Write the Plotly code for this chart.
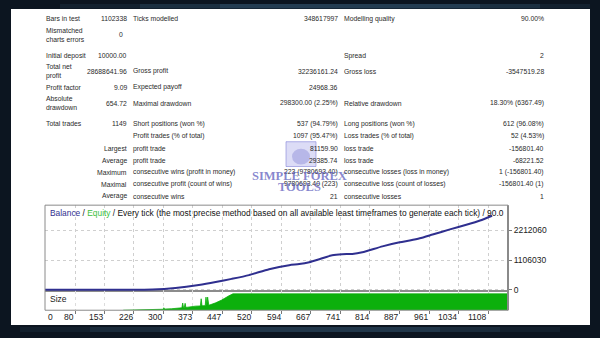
import plotly.graph_objects as go

W, H = 600, 338

# ---------------- data ----------------
row_labels_c1 = ["Bars in test", "Mismatched<br>charts errors", "Initial deposit", "Total net<br>profit",
                 "Profit factor", "Absolute<br>drawdown", "Total trades", "", "", "", "", "", ""]
row_values_c1 = ["1102338", "0", "10000.00", "28688641.96", "9.09", "654.72", "1149", "",
                 "Largest", "Average", "Maximum", "Maximal", "Average"]
row_labels_c2 = ["Ticks modelled", "", "", "Gross profit", "Expected payoff", "Maximal drawdown",
                 "Short positions (won %)", "Profit trades (% of total)", "profit trade", "profit trade",
                 "consecutive wins (profit in money)", "consecutive profit (count of wins)", "consecutive wins"]
row_values_c2 = ["348617997", "", "", "32236161.24", "24968.36", "298300.00 (2.25%)", "537 (94.79%)",
                 "1097 (95.47%)", "81159.90", "29385.74", "223 (9780693.40)", "9780693.40 (223)", "21"]
row_labels_c3 = ["Modelling quality", "", "Spread", "Gross loss", "", "Relative drawdown",
                 "Long positions (won %)", "Loss trades (% of total)", "loss trade", "loss trade",
                 "consecutive losses (loss in money)", "consecutive loss (count of losses)", "consecutive losses"]
row_values_c3 = ["90.00%", "", "2", "-3547519.28", "", "18.30% (6367.49)", "612 (96.08%)", "52 (4.53%)",
                 "-156801.40", "-68221.52", "1 (-156801.40)", "-156801.40 (1)", "1"]

balance_trade = [0, 150, 273, 330, 388, 430, 470, 513, 563, 613, 638, 663, 688, 720, 745, 770, 795,
                 845, 888, 913, 938, 970, 1013, 1056, 1088, 1118]
balance = [10000, 40000, 150000, 700000, 1800000, 2900000, 4100000, 5500000, 7700000, 9200000,
           9600000, 10300000, 11400000, 12900000, 13300000, 13400000, 14000000, 16200000, 17700000,
           18400000, 19200000, 20600000, 22500000, 24300000, 25800000, 27600000]

size_trade = [200, 230, 260, 290, 300, 301, 303, 320, 338, 346, 348, 350, 352, 354, 356, 358, 370, 380,
              392, 394, 396, 400, 404, 406, 408, 410, 412, 413, 430, 445, 463, 473, 1160]
size_lots = [0, 0.02, 0.04, 0.06, 0.06, 0.15, 0.07, 0.09, 0.12, 0.15, 0.44, 0.16, 0.17, 0.42, 0.17, 0.18,
             0.2, 0.25, 0.26, 0.7, 0.27, 0.27, 0.28, 0.8, 0.29, 0.8, 0.3, 0.3, 0.45, 0.62, 0.88, 1.0, 1.0]

x_tick_vals = [0, 80, 153, 226, 300, 373, 447, 520, 594, 667, 741, 814, 887, 961, 1034, 1108]
x_tick_text = ["0", "80", "153", "226", "300", "373", "447", "520", "594", "667", "741", "814",
               "887", "961", "1034", "1108"]
y_tick_vals = [0, 11060302, 22120605]
y_tick_text = ["0", "1106030", "2212060"]

chart_title_parts = ["Balance", " / ", "Equity",
                     " / Every tick (the most precise method based on all available least timeframes to generate each tick) / 90.0"]

# ---------------- layout helpers ----------------
def px(x):
    return x / W

def py(y):
    return 1 - y / H

FONT = "Liberation Sans"
TXT = "#2a2a2a"
NAVY = "#2f2f8f"
GREEN = "#0cb00c"

row_y = [19, 35, 56, 72, 88, 104, 125, 137, 150, 162, 174, 186, 198]

fig = go.Figure()

fig.add_trace(go.Scatter(x=balance_trade, y=balance, mode="lines",
                         line=dict(color=NAVY, width=2, shape="spline", smoothing=0.6), xaxis="x", yaxis="y",
                         hoverinfo="skip", showlegend=False))
fig.add_trace(go.Scatter(x=size_trade, y=size_lots, mode="lines", fill="tozeroy",
                         line=dict(color=GREEN, width=0.8), fillcolor=GREEN,
                         xaxis="x2", yaxis="y2", hoverinfo="skip", showlegend=False))

shapes = []
# background glows (soft, layered)
for (x0, x1, a) in [(60, 590, 0.10), (140, 540, 0.12), (220, 480, 0.14)]:
    shapes.append(dict(type="rect", xref="paper", yref="paper", x0=px(x0), x1=px(x1), y0=py(8.5), y1=py(4),
                       fillcolor=f"rgba(90,150,190,{a})", line=dict(width=0), layer="below"))
for (x0, x1, a) in [(20, 560, 0.08), (90, 500, 0.10), (160, 440, 0.12)]:
    shapes.append(dict(type="rect", xref="paper", yref="paper", x0=px(x0), x1=px(x1), y0=py(335), y1=py(330),
                       fillcolor=f"rgba(90,150,190,{a})", line=dict(width=0), layer="below"))
# white panel
shapes.append(dict(type="rect", xref="paper", yref="paper", x0=px(11), x1=px(590), y0=py(328), y1=py(9),
                   fillcolor="white", line=dict(width=0), layer="below"))
# separator between balance and size panel
shapes.append(dict(type="line", xref="paper", yref="paper", x0=px(45), x1=px(508), y0=py(293.5), y1=py(293.5),
                   line=dict(color="#8c8c8c", width=2), layer="below"))
# chart frame
shapes.append(dict(type="rect", xref="paper", yref="paper", x0=px(45), x1=px(508), y0=py(313), y1=py(207),
                   line=dict(color="#8a8a8a", width=1), fillcolor="rgba(0,0,0,0)", layer="above"))
shapes.append(dict(type="line", xref="paper", yref="paper", x0=px(508), x1=px(508), y0=py(313), y1=py(207),
                   line=dict(color="#8a8a8a", width=2), layer="above"))
# watermark logo
shapes.append(dict(type="rect", xref="paper", yref="paper", x0=px(286), x1=px(316), y0=py(168), y1=py(143),
                   fillcolor="rgba(140,140,225,0.30)", line=dict(color="rgba(110,110,210,0.5)", width=1),
                   layer="above"))
shapes.append(dict(type="circle", xref="paper", yref="paper", x0=px(292), x1=px(310), y0=py(166), y1=py(150),
                   fillcolor="rgba(100,100,200,0.30)", line=dict(width=0), layer="above"))

annotations = []

def txt(x, y, s, anchor="left", size=6.8, color=TXT, family=FONT):
    annotations.append(dict(x=px(x), y=py(y), xref="paper", yref="paper", text=s, showarrow=False,
                            xanchor=anchor, yanchor="middle", align=anchor,
                            font=dict(family=family, size=size, color=color)))

for i, yy in enumerate(row_y):
    if row_labels_c1[i]:
        txt(44, yy, row_labels_c1[i], "left")
    if row_values_c1[i]:
        txt(129 if row_values_c1[i] != "0" else 125, yy, row_values_c1[i], "right")
    if row_labels_c2[i]:
        txt(131, yy, row_labels_c2[i], "left")
    if row_values_c2[i]:
        txt(340, yy, row_values_c2[i], "right")
    if row_labels_c3[i]:
        txt(342, yy, row_labels_c3[i], "left")
    if row_values_c3[i]:
        txt(546, yy, row_values_c3[i], "right")

# watermark text
txt(299, 178, "<b>SIMPLE FOREX</b>", "center", size=12.5, color="rgba(95,95,190,0.75)", family="Liberation Serif")
txt(299, 189, "<b>TOOLS</b>", "center", size=12.5, color="rgba(95,95,190,0.75)", family="Liberation Serif")

# chart title
title_html = (f'<span style="color:{NAVY}">{chart_title_parts[0]}</span>{chart_title_parts[1]}'
              f'<span style="color:#3cc03c">{chart_title_parts[2]}</span>{chart_title_parts[3]}')
txt(48, 215, title_html, "left", size=8.4, color="#111")

txt(48, 302, "Size", "left", size=8.5, color="#222")

# x tick labels (right aligned to the ticks, MT4 style); first one sits at the left frame edge
for v, t in zip(x_tick_vals, x_tick_text):
    if v == x_tick_vals[0]:
        annotations.append(dict(x=px(46), y=py(319.5), xref="paper", yref="paper", text=t, showarrow=False,
                                xanchor="left", yanchor="middle",
                                font=dict(family=FONT, size=8.5, color="#222")))
    else:
        annotations.append(dict(x=v, y=py(319.5), xref="x", yref="paper", text=t, showarrow=False,
                                xanchor="right", yanchor="middle", xshift=1,
                                font=dict(family=FONT, size=8.5, color="#222")))

x_range = [5.3, 1157.6]
fig.update_layout(
    width=W, height=H, margin=dict(l=0, r=0, t=0, b=0),
    paper_bgcolor="#0c1520", plot_bgcolor="white",
    shapes=shapes, annotations=annotations, showlegend=False,
    xaxis=dict(domain=[px(45), px(508)], range=x_range, anchor="y", tickvals=x_tick_vals,
               showticklabels=False, showgrid=True, gridcolor="#cfcfcf", griddash="dot", gridwidth=1,
               zeroline=False, showline=False, ticks=""),
    yaxis=dict(domain=[py(294), py(207)], range=[-553000, 31520000], anchor="x", side="right",
               tickvals=y_tick_vals, ticktext=y_tick_text, showgrid=True, gridcolor="#cfcfcf",
               griddash="dot", zeroline=False, showline=False, ticks="outside", ticklen=3,
               tickcolor="#777", tickfont=dict(family=FONT, size=8.5, color="#222")),
    xaxis2=dict(domain=[px(45), px(508)], range=x_range, anchor="y2", tickvals=x_tick_vals,
                showticklabels=False, showgrid=True, gridcolor="#dcdcdc", griddash="dot",
                zeroline=False, showline=False, ticks="outside", ticklen=3, tickcolor="#777"),
    yaxis2=dict(domain=[py(313), py(294)], range=[0, 1.15], anchor="x2", showticklabels=False,
                showgrid=False, zeroline=False, showline=False),
)

fig.write_html("out.html")
